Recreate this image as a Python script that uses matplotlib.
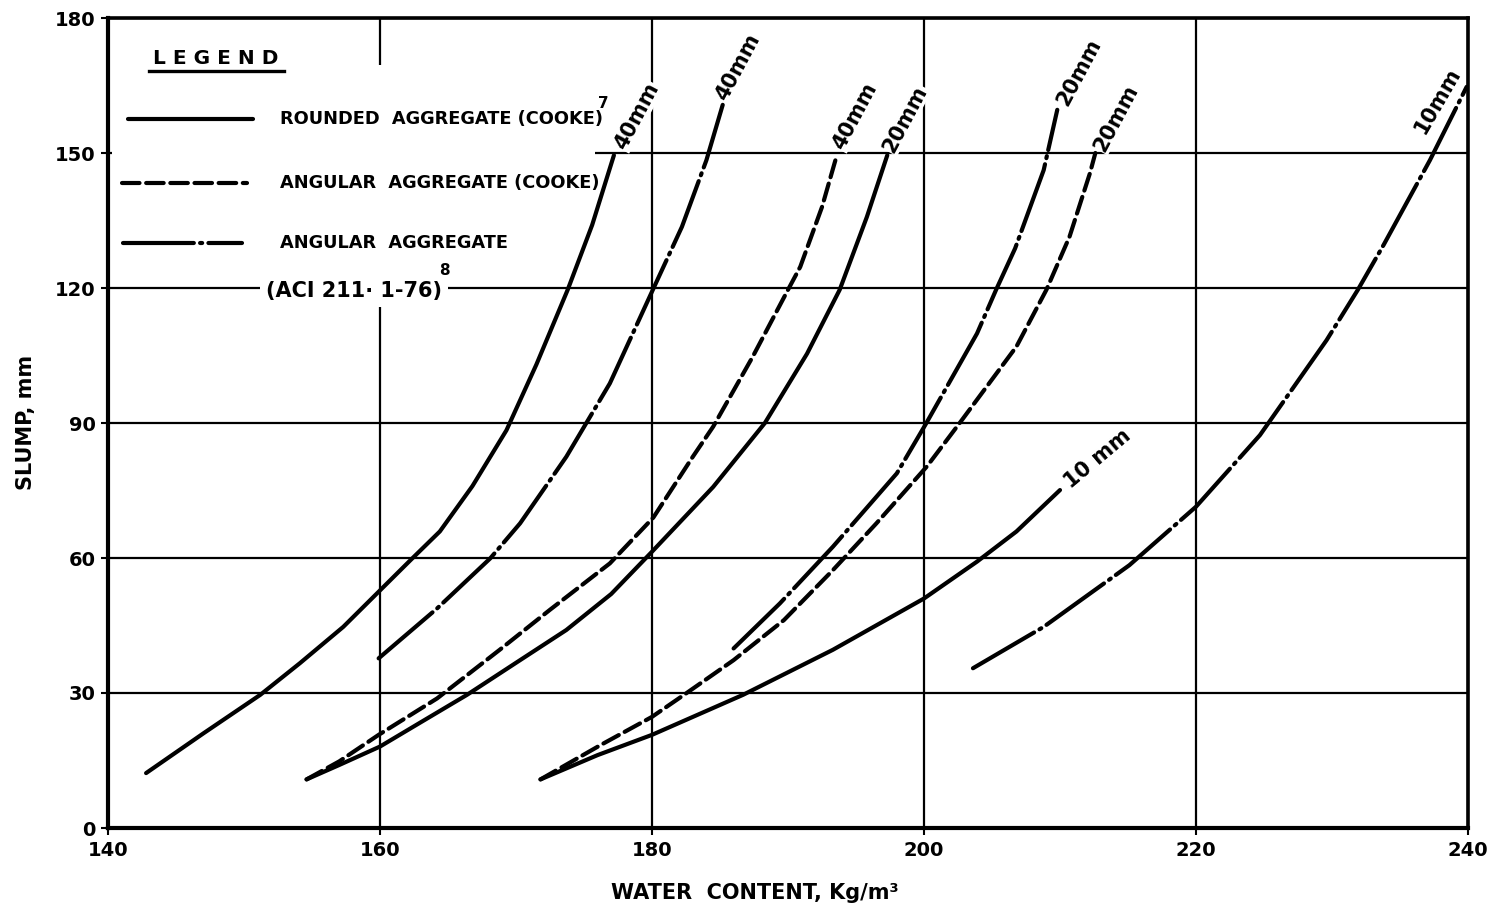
import matplotlib
matplotlib.use("Agg")
import matplotlib.pyplot as plt
from matplotlib.patches import Rectangle
from matplotlib.lines import Line2D

# Slump vs water content curves (water in kg/m3, slump in mm)
rounded_40_x = [142.8, 147.0, 151.2, 154.1, 157.3, 159.8, 162.2, 164.4, 166.8, 169.3, 171.5, 173.8, 175.6, 177.2]
rounded_40_y = [12.2, 21.0, 29.6, 36.6, 44.7, 52.2, 59.4, 65.9, 76.0, 88.4, 103.0, 119.6, 134.0, 149.5]

aci_40_x = [159.9, 164.2, 168.1, 170.3, 173.7, 176.9, 180.0, 182.2, 184.0, 185.2]
aci_40_y = [37.7, 48.8, 59.9, 67.7, 82.5, 98.8, 119.2, 133.6, 148.4, 160.7]

cooke_40_x = [154.6, 157.0, 159.9, 164.2, 168.8, 172.5, 176.9, 180.1, 183.0, 184.5, 187.4, 190.0, 190.9, 192.5, 193.6]
cooke_40_y = [10.8, 14.8, 20.7, 28.8, 39.6, 48.5, 58.8, 69.0, 82.5, 89.2, 104.7, 119.6, 124.7, 138.0, 149.6]

rounded_20_x = [154.6, 157.0, 160.0, 163.0, 166.4, 170.3, 173.7, 177.0, 180.0, 184.5, 188.3, 191.4, 193.8, 195.8, 197.3]
rounded_20_y = [10.8, 14.0, 18.1, 23.5, 29.6, 37.3, 44.0, 52.0, 61.4, 75.8, 90.0, 105.4, 119.6, 135.8, 149.5]

aci_20_x = [186.0, 189.4, 193.3, 198.0, 200.1, 203.9, 205.3, 206.7, 208.8, 209.8]
aci_20_y = [39.9, 49.9, 62.5, 78.8, 89.6, 109.9, 119.6, 128.8, 146.2, 159.6]

cooke_20_x = [171.8, 176.2, 180.0, 182.5, 186.0, 189.7, 193.3, 196.5, 200.2, 202.6, 206.8, 209.0, 210.7, 212.2, 212.6]
cooke_20_y = [10.8, 18.4, 24.7, 29.9, 37.3, 46.2, 57.3, 67.7, 80.3, 89.9, 107.0, 119.6, 131.4, 145.5, 150.0]

rounded_10_x = [171.8, 176.0, 180.0, 186.7, 193.3, 200.0, 203.9, 206.8, 210.0]
rounded_10_y = [10.8, 16.2, 20.7, 29.6, 39.6, 51.0, 59.2, 65.9, 75.1]

aci_10_x = [203.6, 208.8, 215.1, 220.0, 224.7, 229.6, 231.9, 233.8, 237.2, 239.9]
aci_10_y = [35.5, 44.7, 58.4, 71.4, 87.3, 108.4, 119.6, 129.6, 148.4, 164.7]

x_ticks = [140, 160, 180, 200, 220, 240]
y_ticks = [0, 30, 60, 90, 120, 150, 180]

LW = 3.0
SOLID = dict(color="black", lw=LW, solid_capstyle="round", solid_joinstyle="round")
DASHED = dict(color="black", lw=LW, dashes=(4.2, 1.6), dash_capstyle="round", dash_joinstyle="round")
DASHDOT = dict(color="black", lw=LW, dashes=(17, 1.5, 0.5, 1.5), dash_capstyle="round", dash_joinstyle="round")

BOLD = dict(family="DejaVu Sans", weight="bold", color="black")

fig = plt.figure(figsize=(15.09, 9.17), dpi=100)
ax = fig.add_axes([108 / 1509, 1 - 828 / 917, 1360 / 1509, 810 / 917])

ax.set_xlim(140, 240)
ax.set_ylim(0, 180)
ax.set_xticks(x_ticks)
ax.set_yticks(y_ticks)
ax.set_xticklabels([str(v) for v in x_ticks], fontsize=14, **BOLD)
ax.set_yticklabels([str(v) for v in y_ticks], fontsize=14, **BOLD)
ax.tick_params(axis="both", direction="out", length=5, width=1.5, pad=4)
ax.grid(True, color="black", lw=1.6, zorder=1)
ax.set_axisbelow(True)
for side in ("left", "bottom"):
    ax.spines[side].set_linewidth(3.0)
for side in ("top", "right"):
    ax.spines[side].set_linewidth(2.6)

# blank the grid behind the legend block
ax.add_patch(Rectangle((140.3, 121.5), 35.5, 48.1, facecolor="white",
                       edgecolor="none", zorder=1.5))

ax.plot(rounded_40_x, rounded_40_y, zorder=3, **SOLID)
ax.plot(aci_40_x, aci_40_y, zorder=3, **DASHDOT)
ax.plot(cooke_40_x, cooke_40_y, zorder=3, **DASHED)
ax.plot(rounded_20_x, rounded_20_y, zorder=3, **SOLID)
ax.plot(aci_20_x, aci_20_y, zorder=3, **DASHDOT)
ax.plot(cooke_20_x, cooke_20_y, zorder=3, **DASHED)
ax.plot(rounded_10_x, rounded_10_y, zorder=3, **SOLID)
ax.plot(aci_10_x, aci_10_y, zorder=3, **DASHDOT)

# curve end labels
lab_box = dict(facecolor="white", edgecolor="none", pad=0.5)
curve_labels = [
    ("40mm", 178.9, 158.2, 62),
    ("40mm", 186.3, 169.0, 62),
    ("40mm", 194.9, 158.2, 62),
    ("20mm", 198.6, 157.6, 62),
    ("20mm", 211.4, 168.0, 62),
    ("20mm", 214.1, 157.8, 62),
    ("10mm", 237.8, 161.6, 60),
    ("10 mm", 212.8, 82.0, 40),
]
for txt, lx, ly, rot in curve_labels:
    ax.text(lx, ly, txt, rotation=rot, ha="center", va="center", fontsize=15,
            bbox=lab_box, zorder=4, **BOLD)

# legend block
def ax_xy(px, py):
    return (px - 108) / 1360, (828 - py) / 810

tx, ty = ax_xy(216, 58)
ax.text(tx, ty, "L E G E N D", transform=ax.transAxes, ha="center", va="center",
        fontsize=14.5, zorder=4, **BOLD)
u0, uy = ax_xy(149, 71)
u1, _ = ax_xy(284, 71)
ax.add_line(Line2D([u0, u1], [uy, uy], transform=ax.transAxes, color="black", lw=2.4, zorder=4))

legend_rows = [
    (SOLID, 128, 253, 119, "ROUNDED  AGGREGATE (COOKE)"),
    (DASHED, 122, 247, 183, "ANGULAR  AGGREGATE (COOKE)"),
    (DASHDOT, 123, 242, 243, "ANGULAR  AGGREGATE"),
]
for style, p0, p1, py, txt in legend_rows:
    x0, yy = ax_xy(p0, py)
    x1, _ = ax_xy(p1, py)
    ax.add_line(Line2D([x0, x1], [yy, yy], transform=ax.transAxes, zorder=4, **style))
    xt, _ = ax_xy(280, py)
    ax.text(xt, yy, txt, transform=ax.transAxes, ha="left", va="center",
            fontsize=12.8, zorder=4, **BOLD)

sx, sy = ax_xy(603, 103)
ax.text(sx, sy, "7", transform=ax.transAxes, ha="center", va="center", fontsize=11, zorder=4, **BOLD)
ax_x, ax_y = ax_xy(354, 291)
ax.text(ax_x, ax_y, "(ACI 211· 1-76)", transform=ax.transAxes, ha="center", va="center",
        fontsize=15, zorder=4, bbox=dict(facecolor="white", edgecolor="none", pad=4), **BOLD)
sx, sy = ax_xy(444, 270)
ax.text(sx, sy, "8", transform=ax.transAxes, ha="center", va="center", fontsize=11, zorder=4, **BOLD)

fig.text(26 / 1509, 1 - 422 / 917, "SLUMP, mm", rotation=90, ha="center", va="center",
         fontsize=15, **BOLD)
fig.text(755 / 1509, 1 - 893 / 917, "WATER  CONTENT, Kg/m³", ha="center", va="center",
         fontsize=15, **BOLD)

fig.savefig("out.png", dpi=100, facecolor="white")
